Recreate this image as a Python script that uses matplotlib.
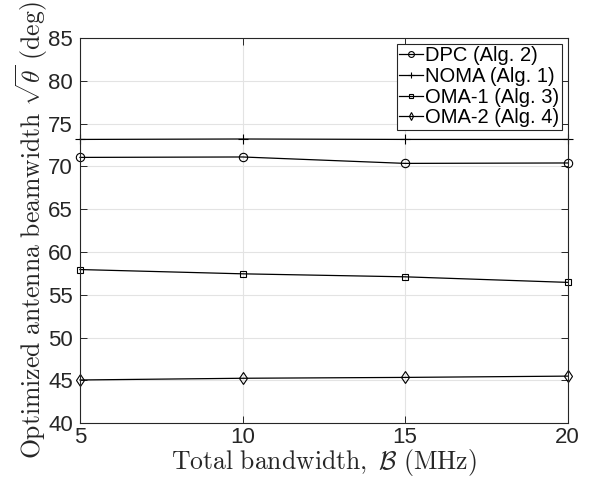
import matplotlib
matplotlib.use('Agg')
import matplotlib.pyplot as plt

plt.rcParams['font.family'] = ['Liberation Sans', 'DejaVu Sans']
plt.rcParams['mathtext.fontset'] = 'cm'

bandwidth = [5, 10, 15, 20]
dpc = [71.05, 71.1, 70.35, 70.4]
noma = [73.15, 73.2, 73.15, 73.15]
oma1 = [57.95, 57.45, 57.1, 56.45]
oma2 = [45.05, 45.25, 45.35, 45.5]

fig = plt.figure(figsize=(5.92, 4.87), dpi=100)
ax = fig.add_axes([0.135, 0.131, 0.824, 0.791])

style = dict(color='black', linewidth=0.9, markerfacecolor='none',
             markeredgecolor='black', markeredgewidth=0.8, clip_on=False)
ax.plot(bandwidth, dpc, marker='o', markersize=6, label='DPC (Alg. 2)', **style)
ax.plot(bandwidth, noma, marker='+', markersize=7, label='NOMA (Alg. 1)', **style)
ax.plot(bandwidth, oma1, marker='s', markersize=5, label='OMA-1 (Alg. 3)', **style)
ax.plot(bandwidth, oma2, marker='d', markersize=6, label='OMA-2 (Alg. 4)', **style)

ax.set_xlim(5, 20)
ax.set_ylim(40, 85)
ax.set_xticks([5, 10, 15, 20])
ax.set_yticks(range(40, 86, 5))
ax.tick_params(direction='in', top=True, right=True, labelsize=16,
               length=5, width=0.7, colors='#262626', pad=3)
ax.tick_params(axis='y', pad=5)
for s in ax.spines.values():
    s.set_linewidth(0.8)
    s.set_color('#262626')
ax.grid(True, color='#e3e3e3', linewidth=0.8)
ax.set_axisbelow(True)

ax.set_xlabel(r'$\mathrm{Total\ bandwidth,}\ \mathcal{B}\ \mathrm{(MHz)}$',
              fontsize=18.5, labelpad=-1, color='#262626')
ax.set_ylabel(r'$\mathrm{Optimized\ antenna\ beamwidth}\ \sqrt{\theta}\ \mathrm{(deg)}$',
              fontsize=18.5, labelpad=-1, color='#262626')

leg = ax.legend(loc='upper right', fontsize=14.5, handlelength=1.2,
                handletextpad=0.1, borderpad=0.12, labelspacing=0.08,
                borderaxespad=0.3, fancybox=False, framealpha=1,
                edgecolor='#262626', markerscale=0.7)
leg.get_frame().set_linewidth(0.8)

fig.savefig('out.png', dpi=100, facecolor='white')
